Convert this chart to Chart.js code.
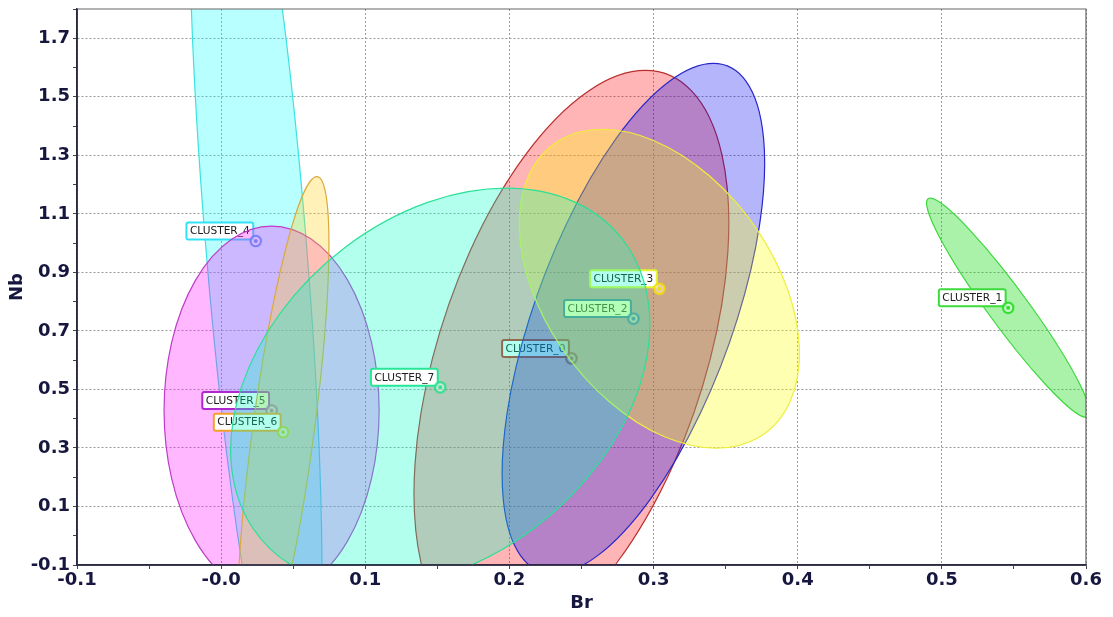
<!DOCTYPE html>
<html>
<head>
<meta charset="utf-8">
<script src="https://cdn.jsdelivr.net/npm/chart.js@4.4.1/dist/chart.umd.min.js"></script>
<style>
  html, body { margin: 0; padding: 0; background: #fff; }
</style>
</head>
<body>
<canvas id="chart" width="1113" height="617"></canvas>
<script>
// cluster centres and the shape of each cluster's ellipse (data units)
const clusters = ["CLUSTER_0", "CLUSTER_1", "CLUSTER_2", "CLUSTER_3", "CLUSTER_4", "CLUSTER_5", "CLUSTER_6", "CLUSTER_7"];
const centerBr = [0.243, 0.546, 0.286, 0.304, 0.024, 0.035, 0.043, 0.152];
const centerNb = [0.606, 0.779, 0.742, 0.844, 1.007, 0.428, 0.354, 0.507];
// half width of the ellipse along Br through its centre
const spreadBr = [0.0964, 0.0167, 0.0722, 0.0888, 0.035, 0.0746, 0.0215, 0.138];
// half height of the ellipse along Nb
const spreadNb = [0.984, 0.3745, 0.872, 0.545, 1.805, 0.630, 0.873, 0.681];
// Br offset of the ellipse's highest point from the centre
const tiltBr = [0.0513, -0.0541, 0.0555, -0.0395, -0.0298, 0, 0.0234, 0.0458];

const brTicks = { min: -0.1, max: 0.6, step: 0.05 };
const nbTicks = { min: -0.1, max: 1.8, step: 0.1 };

const fillColors = [
    "rgba(255,0,0,0.29)", "rgba(20,215,20,0.36)", "rgba(0,0,240,0.29)", "rgba(255,255,0,0.3)",
    "rgba(0,255,255,0.28)", "rgba(255,0,255,0.28)", "rgba(255,210,20,0.3)", "rgba(0,255,200,0.3)"
];
const lineColors = [
    "rgb(185,45,45)", "rgb(60,215,60)", "rgb(40,40,200)", "rgb(238,238,60)",
    "rgb(60,225,225)", "rgb(190,60,200)", "rgb(220,170,60)", "rgb(40,225,150)"
];
const tagColors = [
    "rgb(205,45,30)", "rgb(60,220,60)", "rgb(40,90,190)", "rgb(225,245,50)",
    "rgb(50,225,245)", "rgb(175,40,205)", "rgb(245,160,40)", "rgb(40,230,150)"
];
const dotColors = [
    "rgb(190,60,50)", "rgb(40,220,40)", "rgb(40,80,210)", "rgb(245,220,0)",
    "rgb(60,175,245)", "rgb(175,80,205)", "rgb(200,200,40)", "rgb(40,225,140)"
];

const axisText = "#16163f";

function markerImage(color) {
    const c = document.createElement("canvas");
    c.width = 16;
    c.height = 16;
    const g = c.getContext("2d");
    g.beginPath();
    g.arc(8, 8, 5.2, 0, Math.PI * 2);
    g.fillStyle = "rgba(255,255,255,0.45)";
    g.fill();
    g.lineWidth = 2;
    g.strokeStyle = color;
    g.stroke();
    g.beginPath();
    g.arc(8, 8, 2, 0, Math.PI * 2);
    g.fillStyle = color;
    g.fill();
    return c;
}

// ellipse and tag of each cluster, drawn just before its centre point
const clusterPlugin = {
    id: "clusters",
    beforeDatasetDraw(chart, args) {
        const i = args.index;
        const { ctx, chartArea: a } = chart;
        const xs = chart.scales.x, ys = chart.scales.y;
        const cx = xs.getPixelForValue(centerBr[i]);
        const cy = ys.getPixelForValue(centerNb[i]);
        const ux = xs.getPixelForValue(centerBr[i] + spreadBr[i]) - cx;
        const tx = xs.getPixelForValue(centerBr[i] + tiltBr[i]) - cx;
        const ty = ys.getPixelForValue(centerNb[i] + spreadNb[i]) - cy;

        ctx.save();
        ctx.beginPath();
        ctx.rect(a.left, a.top, a.right - a.left, a.bottom - a.top);
        ctx.clip();

        ctx.beginPath();
        ctx.save();
        ctx.transform(ux, 0, tx, ty, cx, cy);
        ctx.arc(0, 0, 1, 0, Math.PI * 2);
        ctx.restore();
        ctx.fillStyle = fillColors[i];
        ctx.fill();
        ctx.lineWidth = 1.2;
        ctx.strokeStyle = lineColors[i];
        ctx.stroke();

        ctx.font = '10.6px "DejaVu Sans"';
        const w = ctx.measureText(clusters[i]).width + 7;
        const h = 17;
        const bx = cx - 2.5 - w, by = cy - 1.5 - h;
        ctx.beginPath();
        ctx.roundRect(bx, by, w, h, 2);
        ctx.fillStyle = "#fff";
        ctx.fill();
        ctx.lineWidth = 2;
        ctx.strokeStyle = tagColors[i];
        ctx.stroke();
        ctx.fillStyle = "#202020";
        ctx.textBaseline = "middle";
        ctx.textAlign = "left";
        ctx.fillText(clusters[i], bx + 3.5, by + h / 2 + 0.5);
        ctx.restore();
    },
    afterDatasetsDraw(chart) {
        const { ctx, chartArea: a } = chart;
        ctx.save();
        ctx.lineWidth = 1.2;
        ctx.strokeStyle = "#666";
        ctx.beginPath();
        ctx.moveTo(a.left, a.top);
        ctx.lineTo(a.right, a.top);
        ctx.lineTo(a.right, a.bottom);
        ctx.stroke();
        ctx.lineWidth = 1.6;
        ctx.strokeStyle = "#2a2a40";
        ctx.beginPath();
        ctx.moveTo(a.left, a.top);
        ctx.lineTo(a.left, a.bottom);
        ctx.lineTo(a.right, a.bottom);
        ctx.stroke();
        ctx.restore();
    }
};

const isMajorBr = v => Math.abs(Math.round(v * 20)) % 2 === 0;
const isMajorNb = v => Math.abs(Math.round(v * 10)) % 2 === 1;

const datasets = clusters.map((name, i) => ({
    label: name,
    data: [{ x: centerBr[i], y: centerNb[i] }],
    pointStyle: markerImage(dotColors[i]),
    pointRadius: 8,
    order: clusters.length - 1 - i
}));

new Chart(document.getElementById("chart"), {
    type: "scatter",
    data: { datasets: datasets },
    plugins: [clusterPlugin],
    options: {
        responsive: false,
        animation: false,
        devicePixelRatio: 1,
        layout: { padding: { left: 0, right: 27, top: 0, bottom: 0 } },
        plugins: { legend: { display: false }, tooltip: { enabled: false } },
        scales: {
            x: {
                type: "linear",
                min: brTicks.min,
                max: brTicks.max,
                afterFit: s => { s.height = 52; },
                ticks: {
                    stepSize: brTicks.step,
                    autoSkip: false,
                    maxRotation: 0,
                    padding: 1,
                    color: axisText,
                    font: { family: "DejaVu Sans", weight: "bold", size: 18 },
                    callback: v => isMajorBr(v) ? v.toFixed(1) : ""
                },
                grid: {
                    color: c => (c.tick && isMajorBr(c.tick.value)) ? "#9a9a9a" : "rgba(0,0,0,0)",
                    tickColor: "#444",
                    tickLength: 4
                },
                border: { display: true, color: "#2a2a40", width: 1.5, dash: [2, 2] },
                title: {
                    display: true,
                    text: "Br",
                    color: axisText,
                    font: { family: "DejaVu Sans", weight: "bold", size: 18 },
                    padding: { top: 0, bottom: 3 }
                }
            },
            y: {
                type: "linear",
                min: nbTicks.min,
                max: nbTicks.max,
                afterFit: s => { s.width = 77; s.paddingTop = 7; },
                ticks: {
                    stepSize: nbTicks.step,
                    autoSkip: false,
                    padding: 3,
                    color: axisText,
                    font: { family: "DejaVu Sans", weight: "bold", size: 18 },
                    callback: v => isMajorNb(v) ? v.toFixed(1) : ""
                },
                grid: {
                    color: c => (c.tick && isMajorNb(c.tick.value)) ? "#9a9a9a" : "rgba(0,0,0,0)",
                    tickColor: "#444",
                    tickLength: 4
                },
                border: { display: true, color: "#2a2a40", width: 1.5, dash: [2, 2] },
                title: {
                    display: true,
                    text: "Nb",
                    color: axisText,
                    font: { family: "DejaVu Sans", weight: "bold", size: 18 },
                    padding: { top: 7, bottom: 0 }
                }
            }
        }
    }
});
</script>
</body>
</html>
